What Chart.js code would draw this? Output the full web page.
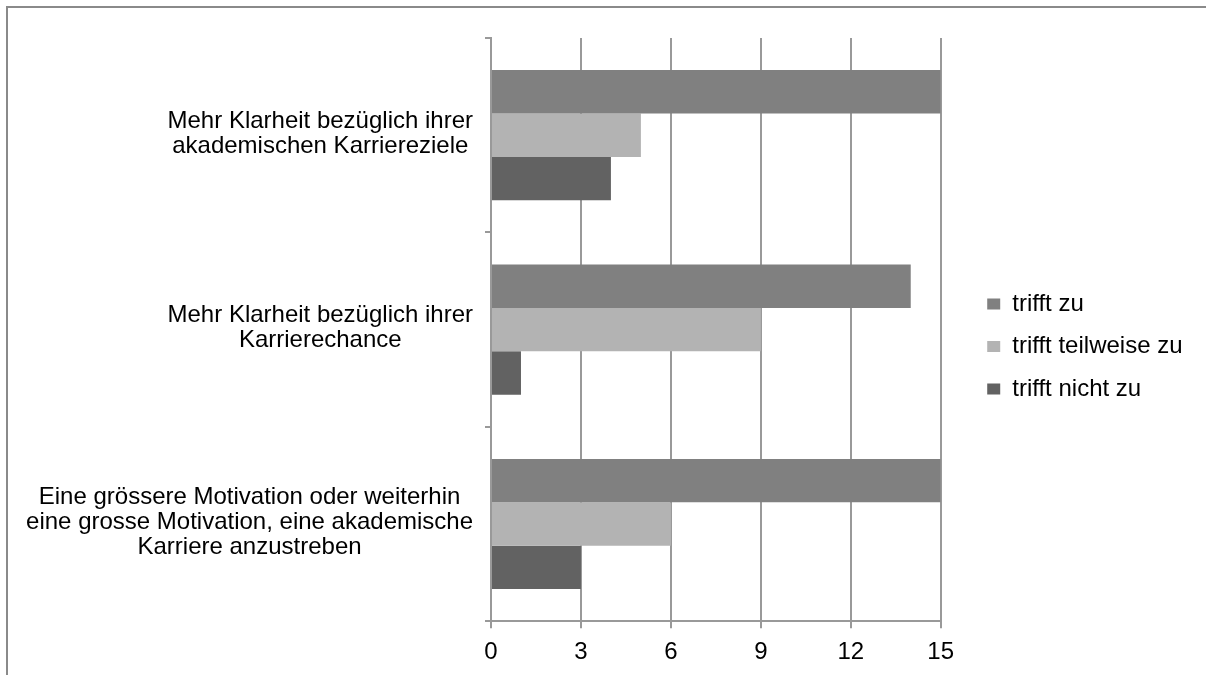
<!DOCTYPE html>
<html>
<head>
<meta charset="utf-8">
<script src="https://cdn.jsdelivr.net/npm/chart.js@4/dist/chart.umd.min.js"></script>
<style>
  html, body { margin: 0; padding: 0; background: #fff; overflow: hidden; }
  #frame { position: absolute; left: 6px; top: 6px; width: 1300px; height: 800px; border: 2px solid #8a8a8a; }
  #chart { position: absolute; left: 0; top: 0; }
</style>
</head>
<body>
<div id="frame"></div>
<canvas id="chart" width="1206" height="675"></canvas>
<script>
// categories (one array of lines per label)
const categories = [
    ['Mehr Klarheit bezüglich ihrer', 'akademischen Karriereziele'],
    ['Mehr Klarheit bezüglich ihrer', 'Karrierechance'],
    ['Eine grössere Motivation oder weiterhin', 'eine grosse Motivation, eine akademische', 'Karriere anzustreben']
];
const seriesNames = ['trifft zu', 'trifft teilweise zu', 'trifft nicht zu'];
const trifftZu = [15, 14, 15];
const trifftTeilweise = [5, 9, 6];
const trifftNicht = [4, 1, 3];
const xMax = 15;
const xStep = 3;

const FONT = '"Liberation Sans", Arial, sans-serif';
const gridColor = '#999999';

// draws the category labels: each block centred, block pushed against the axis
const categoryLabels = {
    id: 'categoryLabels',
    afterDraw(chart) {
        const ctx = chart.ctx;
        const yScale = chart.scales.y;
        ctx.save();
        ctx.font = '24px ' + FONT;
        ctx.fillStyle = '#000';
        ctx.textAlign = 'center';
        ctx.textBaseline = 'middle';
        categories.forEach((lines, i) => {
            const yc = yScale.getPixelForTick(i);
            const bw = Math.max(...lines.map(l => ctx.measureText(l).width));
            const xc = yScale.right - 18 - bw / 2;
            lines.forEach((line, j) => {
                ctx.fillText(line, xc, yc - 1.5 + (j - (lines.length - 1) / 2) * 25);
            });
        });
        ctx.restore();
    }
};

// moves the legend a bit away from the plot
const legendShift = {
    id: 'legendShift',
    afterLayout(chart) {
        const lg = chart.legend;
        lg.left += 28; lg.right += 28;
        lg.top -= 11; lg.bottom -= 11;
    }
};

const ctx = document.getElementById('chart').getContext('2d');
new Chart(ctx, {
    type: 'bar',
    data: {
        labels: categories.map(l => l.join(' ')),
        datasets: [
            { label: seriesNames[0], data: trifftZu, backgroundColor: '#808080' },
            { label: seriesNames[1], data: trifftTeilweise, backgroundColor: '#b3b3b3' },
            { label: seriesNames[2], data: trifftNicht, backgroundColor: '#626262' }
        ]
    },
    options: {
        indexAxis: 'y',
        responsive: false,
        animation: false,
        devicePixelRatio: 1,
        datasets: {
            bar: { categoryPercentage: 0.67, barPercentage: 1, borderWidth: 0 }
        },
        layout: { padding: { top: 38, right: 41.5, bottom: -2, left: 0 } },
        scales: {
            x: {
                min: 0,
                max: xMax,
                ticks: { stepSize: xStep, padding: 10, color: '#000', font: { family: FONT, size: 24 } },
                grid: { color: gridColor, lineWidth: 2, tickLength: 7 },
                border: { color: gridColor, width: 2 }
            },
            y: {
                ticks: { display: false },
                grid: { drawOnChartArea: false, offset: true, color: gridColor, lineWidth: 2, tickLength: 6 },
                border: { color: gridColor, width: 2 },
                afterFit(scale) { scale.width = 491; }
            }
        },
        plugins: {
            tooltip: { enabled: false },
            legend: {
                position: 'right',
                labels: {
                    boxWidth: 13,
                    boxHeight: 11,
                    padding: 18.5,
                    color: '#000',
                    font: { family: FONT, size: 24 }
                }
            }
        }
    },
    plugins: [categoryLabels, legendShift]
});
</script>
</body>
</html>
